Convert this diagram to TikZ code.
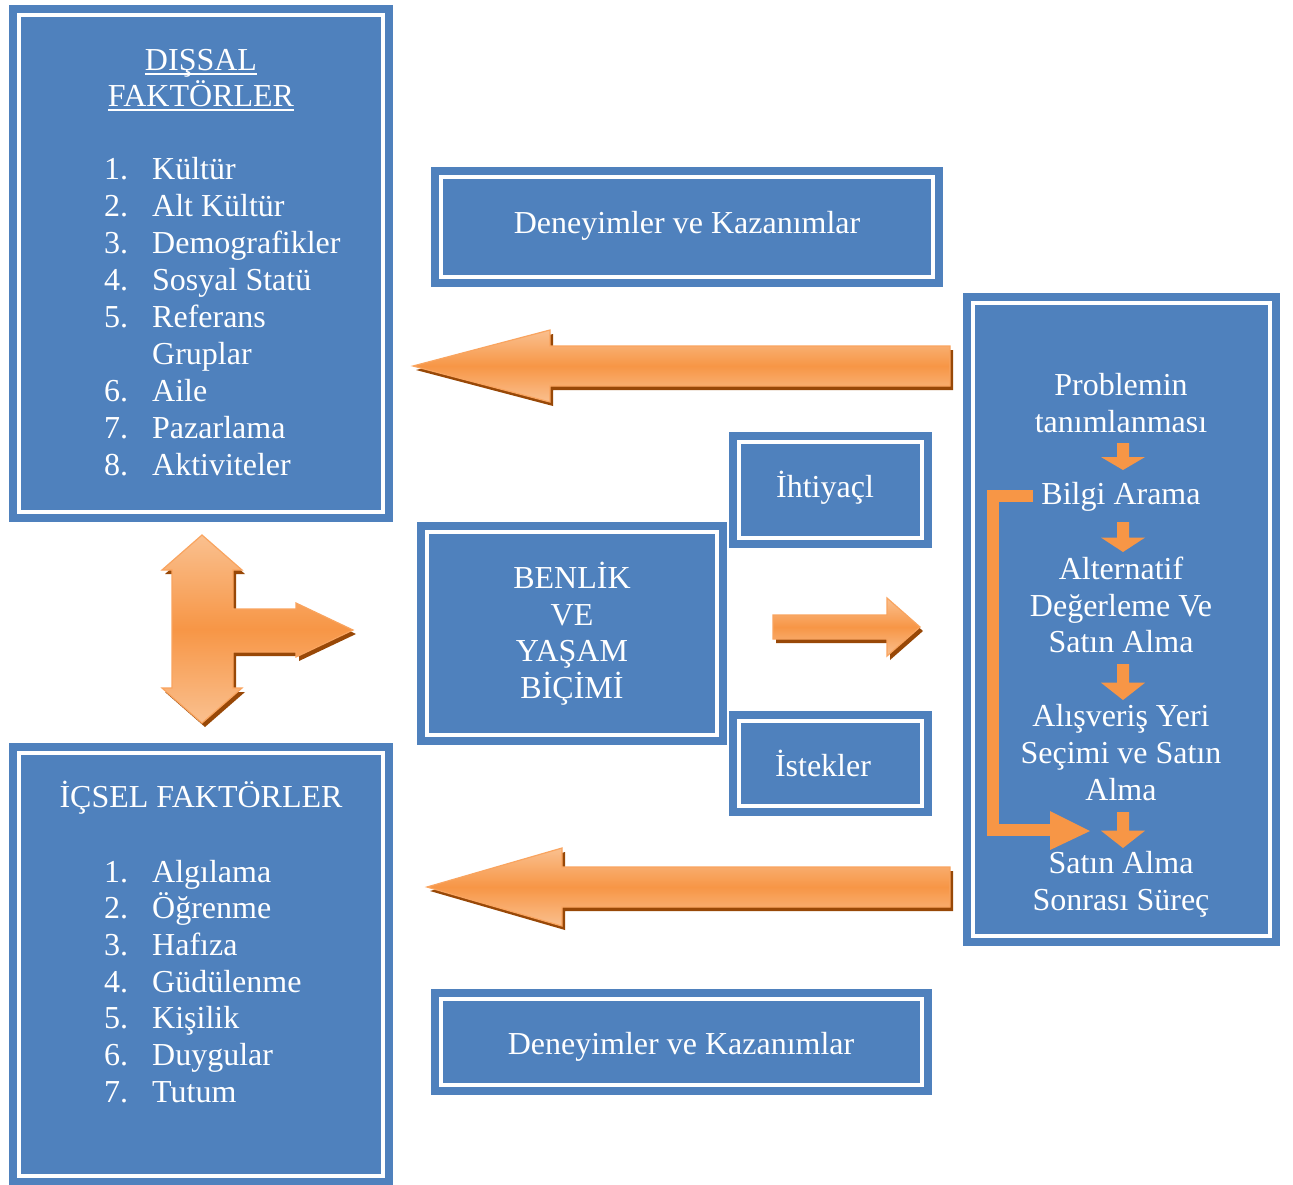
\documentclass[tikz,border=0pt]{standalone}
\usepackage{fontspec}
\setmainfont{Liberation Serif}
\definecolor{boxblue}{HTML}{4F81BD}
\definecolor{arrowmid}{HTML}{F79646}
\definecolor{arrowlight}{HTML}{FAC08F}
\definecolor{arrowshadow}{HTML}{984807}
\definecolor{arrowedge}{HTML}{F9A45F}
\definecolor{wmark}{HTML}{F0F0F0}
\newcommand\shadedarrow[1]{%
  \fill[arrowshadow, shift={(3,4)}] #1;
  \path[draw=arrowedge, line width=1.2pt, top color=arrowlight, bottom color=arrowlight, middle color=arrowmid] #1;}
\newcommand\dnarr[3]{%
  \fill[arrowmid] ({#1-6},#2) -- ({#1+6},#2) -- ({#1+6},{#2+0.52*(#3-#2)}) -- ({#1+22},{#2+0.52*(#3-#2)}) -- (#1,#3) -- ({#1-22},{#2+0.52*(#3-#2)}) -- ({#1-6},{#2+0.52*(#3-#2)}) -- cycle;}
\begin{document}
\begin{tikzpicture}[x=1pt,y=-1pt,
  bbox/.style={fill=boxblue, draw=white, line width=4pt, preaction={draw=boxblue, line width=20pt}, inner sep=0pt, outer sep=0pt},
  txt/.style={text=white, font=\fontsize{32}{37}\selectfont, inner sep=0pt, anchor=base},
  txtl/.style={txt, anchor=base west}]
\useasboundingbox[fill=white] (0,0) rectangle (1293,1184);

% boxes
\node[bbox, minimum width=364pt, minimum height=497pt] (dis) at (201,263.5) {};
\node[bbox, minimum width=492pt, minimum height=100pt] (den1) at (687,227) {};
\node[bbox, minimum width=297pt, minimum height=633pt] (proc) at (1121.5,619.5) {};
\node[bbox, minimum width=183pt, minimum height=96pt] (iht) at (830.5,490) {};
\node[bbox, minimum width=290pt, minimum height=203pt] (ben) at (572,633.5) {};
\node[bbox, minimum width=183pt, minimum height=85pt] (ist) at (830.5,763.5) {};
\node[bbox, minimum width=364pt, minimum height=423pt] (ics) at (201,964.5) {};
\node[bbox, minimum width=481pt, minimum height=86pt] (den2) at (681.5,1042) {};

% DISSAL text
\node[txt] (d0a) at (201,70) {DIŞSAL};
\node[txt] (d0b) at (201,106) {FAKTÖRLER};
\draw[white, line width=1.6pt] ([yshift=-4pt]d0a.base west) -- ([yshift=-4pt]d0a.base east);
\draw[white, line width=1.6pt] ([yshift=-4pt]d0b.base west) -- ([yshift=-4pt]d0b.base east);
\foreach \n/\t/\y [count=\i] in {1./Kültür/179, 2./Alt Kültür/216, 3./Demografikler/253, 4./Sosyal Statü/290, 5./Referans/327, /Gruplar/364, 6./Aile/401, 7./Pazarlama/438, 8./Aktiviteler/475}{
  \node[txtl] (dn\i) at (104,\y) {\n};
  \node[txtl] (dt\i) at (152,\y) {\t};
}

% ICSEL text
\node[txt] (i0) at (201,807) {İÇSEL FAKTÖRLER};
\foreach \n/\t/\y [count=\i] in {1./Algılama/882, 2./Öğrenme/918, 3./Hafıza/955, 4./Güdülenme/992, 5./Kişilik/1028, 6./Duygular/1065, 7./Tutum/1102}{
  \node[txtl] (in\i) at (104,\y) {\n};
  \node[txtl] (it\i) at (152,\y) {\t};
}

% other box texts
\node[txt] (den1t) at (687,233) {Deneyimler ve Kazanımlar};
\node[txt] (den2t) at (681,1054) {Deneyimler ve Kazanımlar};
\node[txt] (ihtt) at (825,497) {İhtiyaçl};
\node[txt] (istt) at (823,776) {İstekler};
\node[txt] (b1) at (572,588.5) {BENLİK};
\node[txt] (b2) at (572,625.5) {VE};
\node[txt] (b3) at (572,661.5) {YAŞAM};
\node[txt] (b4) at (572,698.5) {BİÇİMİ};

% process texts
\node[txt] (p1) at (1121,395) {Problemin};
\node[txt] (p2) at (1121,432) {tanımlanması};
\node[txt] (p3) at (1121,504) {Bilgi Arama};
\node[txt] (p4) at (1121,579) {Alternatif};
\node[txt] (p5) at (1121,616) {Değerleme Ve};
\node[txt] (p6) at (1121,652) {Satın Alma};
\node[txt] (p7) at (1121,726) {Alışveriş Yeri};
\node[txt] (p8) at (1121,763) {Seçimi ve Satın};
\node[txt] (p9) at (1121,800) {Alma};
\node[txt] (p10) at (1121,873) {Satın Alma};
\node[txt] (p11) at (1121,910) {Sonrası Süreç};

% small down arrows
\dnarr{1123}{443}{470}
\dnarr{1123}{522}{552}
\dnarr{1123}{664}{700}
\dnarr{1123}{812}{848}

% bracket arrow
\draw[arrowmid, line width=12pt] (1033,496) -- (993,496) -- (993,830) -- (1052,830);
\fill[arrowmid] (1050,811) -- (1090,831) -- (1050,850) -- cycle;

% big arrows
\shadedarrow{(413,366) -- (550,330) -- (550,346) -- (950,346) -- (950,386) -- (550,386) -- (550,402) -- cycle}
\shadedarrow{(427,887) -- (562,848) -- (562,867) -- (950,867) -- (950,907) -- (562,907) -- (562,926) -- cycle}
\shadedarrow{(920,627) -- (887,598) -- (887,615) -- (773,615) -- (773,639) -- (887,639) -- (887,656) -- cycle}
\shadedarrow{(202,535) -- (242,570) -- (233,570) -- (233,609) -- (296,609) -- (296,603) -- (353,630) -- (296,657) -- (296,652) -- (233,652) -- (233,688) -- (242,688) -- (202,723) -- (162,688) -- (172,688) -- (172,570) -- (162,570) -- cycle}
\end{tikzpicture}
\end{document}
